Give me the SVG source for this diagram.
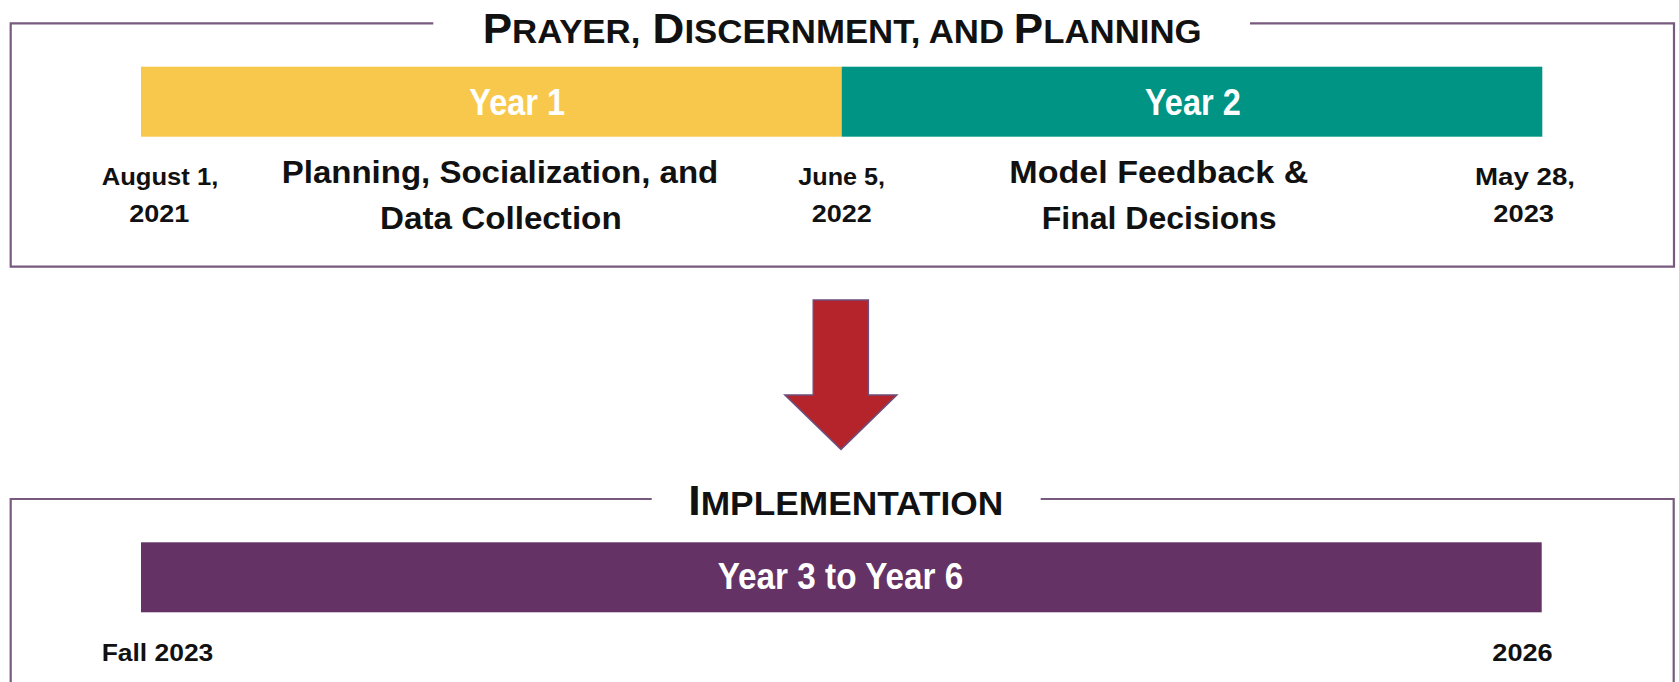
<svg xmlns="http://www.w3.org/2000/svg" width="1679" height="682" viewBox="0 0 1679 682">
<style>
text{font-family:"Liberation Sans",Arial,sans-serif;font-weight:bold;}
.frame{fill:none;stroke:#775a7d;stroke-width:2.2;}
.title{fill:#111;font-size:43px;}
.sc{font-size:34px;}
.bar{fill:#fff;font-size:36px;}
.phase{fill:#111;font-size:31px;}
.date{fill:#111;font-size:24px;}
</style>
<rect width="1679" height="682" fill="#fff"/>
<g id="phase-planning">
  <path class="frame" d="M433.3,23.3 H10.7 V266.7 H1674 V23.3 H1250"/>
  <text class="title" x="482.7" y="42.7" textLength="719" lengthAdjust="spacingAndGlyphs">P<tspan class="sc">RAYER,</tspan> D<tspan class="sc">ISCERNMENT, AND </tspan>P<tspan class="sc">LANNING</tspan></text>
</g>
<g id="year1">
  <rect x="141" y="66.7" width="700.7" height="70" fill="#f8c84d"/>
  <text class="bar" x="469.3" y="115" textLength="95.7" lengthAdjust="spacingAndGlyphs">Year 1</text>
</g>
<g id="year2">
  <rect x="841.7" y="66.7" width="700.6" height="70" fill="#009485"/>
  <text class="bar" x="1145" y="115" textLength="95.7" lengthAdjust="spacingAndGlyphs">Year 2</text>
</g>
<g id="phase1-label">
  <text class="phase" x="281.7" y="182.5" textLength="436.6" lengthAdjust="spacingAndGlyphs">Planning, Socialization, and</text>
  <text class="phase" x="380" y="229" textLength="241.7" lengthAdjust="spacingAndGlyphs">Data Collection</text>
</g>
<g id="phase2-label">
  <text class="phase" x="1009.3" y="182.5" textLength="299" lengthAdjust="spacingAndGlyphs">Model Feedback &amp;</text>
  <text class="phase" x="1041.7" y="229" textLength="235" lengthAdjust="spacingAndGlyphs">Final Decisions</text>
</g>
<g id="date-start">
  <text class="date" x="101.7" y="185" textLength="116.6" lengthAdjust="spacingAndGlyphs">August 1,</text>
  <text class="date" x="129.3" y="221.7" textLength="60" lengthAdjust="spacingAndGlyphs">2021</text>
</g>
<g id="date-mid">
  <text class="date" x="798.3" y="185" textLength="86.7" lengthAdjust="spacingAndGlyphs">June 5,</text>
  <text class="date" x="811.7" y="221.7" textLength="60" lengthAdjust="spacingAndGlyphs">2022</text>
</g>
<g id="date-end">
  <text class="date" x="1475" y="185" textLength="100" lengthAdjust="spacingAndGlyphs">May 28,</text>
  <text class="date" x="1493.3" y="221.7" textLength="60.7" lengthAdjust="spacingAndGlyphs">2023</text>
</g>
<g id="connectors">
  <path d="M813.3,300 H868.3 V395 H896.7 L841,449.3 L785,395 H813.3 Z" fill="#b5232b" stroke="#6e4d7b" stroke-width="1.6" stroke-linejoin="miter"/>
</g>
<g id="phase-implementation">
  <path class="frame" d="M651.7,499 H10.7 V690 M1040.7,499 H1673.7 V690"/>
  <text class="title" x="688.3" y="515" textLength="315" lengthAdjust="spacingAndGlyphs">I<tspan class="sc">MPLEMENTATION</tspan></text>
</g>
<g id="year3to6">
  <rect x="141" y="542.3" width="1400.7" height="70" fill="#643264"/>
  <text class="bar" x="717.7" y="589.3" textLength="245.6" lengthAdjust="spacingAndGlyphs">Year 3 to Year 6</text>
</g>
<g id="impl-start">
  <text class="date" x="101.7" y="661" textLength="111.6" lengthAdjust="spacingAndGlyphs">Fall 2023</text>
</g>
<g id="impl-end">
  <text class="date" x="1492.3" y="661" textLength="60.4" lengthAdjust="spacingAndGlyphs">2026</text>
</g>
</svg>
